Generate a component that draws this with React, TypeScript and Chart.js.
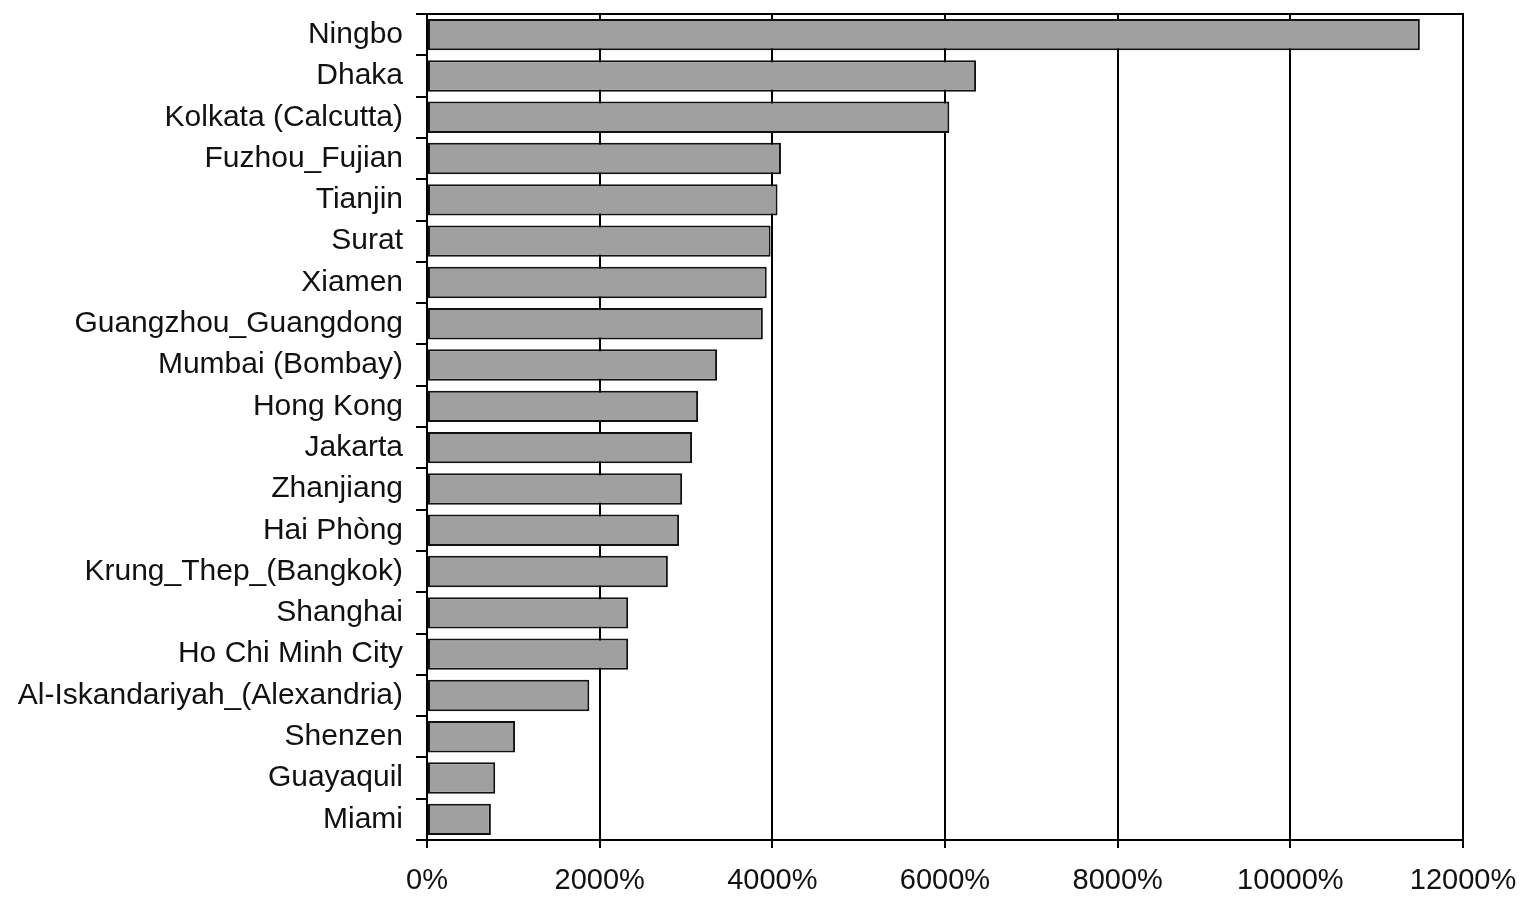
import React, { useEffect, useRef } from "react";
import { Chart, registerables } from "chart.js";

Chart.register(...registerables);

const cities: string[] = [
  "Ningbo",
  "Dhaka",
  "Kolkata (Calcutta)",
  "Fuzhou_Fujian",
  "Tianjin",
  "Surat",
  "Xiamen",
  "Guangzhou_Guangdong",
  "Mumbai (Bombay)",
  "Hong Kong",
  "Jakarta",
  "Zhanjiang",
  "Hai Phòng",
  "Krung_Thep_(Bangkok)",
  "Shanghai",
  "Ho Chi Minh City",
  "Al-Iskandariyah_(Alexandria)",
  "Shenzen",
  "Guayaquil",
  "Miami",
];

const growthPct: number[] = [
  11500, 6360, 6050, 4100, 4060, 3980, 3935, 3890, 3360, 3140,
  3070, 2955, 2920, 2790, 2330, 2330, 1880, 1020, 790, 740,
];

const xTickValues: number[] = [0, 2000, 4000, 6000, 8000, 10000, 12000];

const FONT = '"Liberation Sans", Arial, Helvetica, sans-serif';

const framePlugin = {
  id: "frameBox",
  afterDatasetsDraw(chart: any) {
    const { ctx, chartArea } = chart;
    ctx.save();
    ctx.strokeStyle = "#000";
    ctx.lineWidth = 2;
    ctx.beginPath();
    ctx.moveTo(chartArea.left, chartArea.top);
    ctx.lineTo(chartArea.right, chartArea.top);
    ctx.lineTo(chartArea.right, chartArea.bottom);
    ctx.stroke();
    ctx.restore();
  },
};

export default function App() {
  const canvasRef = useRef<HTMLCanvasElement | null>(null);

  useEffect(() => {
    if (!canvasRef.current) return;
    const chart = new Chart(canvasRef.current, {
      type: "bar",
      data: {
        labels: cities,
        datasets: [
          {
            data: growthPct,
            backgroundColor: "#a0a0a0",
            borderColor: "#111",
            borderWidth: 2,
            borderSkipped: false,
            barPercentage: 0.76,
            categoryPercentage: 1,
          },
        ],
      },
      options: {
        indexAxis: "y",
        animation: false,
        responsive: true,
        maintainAspectRatio: false,
        layout: { padding: { left: 0, top: 14, right: 59, bottom: 0 } },
        plugins: {
          legend: { display: false },
          tooltip: { enabled: false },
        },
        scales: {
          x: {
            type: "linear",
            min: 0,
            max: 12000,
            afterBuildTicks: (scale: any) => {
              scale.ticks = xTickValues.map((v) => ({ value: v }));
            },
            afterFit: (scale: any) => {
              scale.height = 57;
              scale.paddingLeft = 0;
              scale.paddingRight = 0;
            },
            ticks: {
              color: "#111",
              font: { family: FONT, size: 29 },
              padding: 16,
              maxRotation: 0,
              callback: (v: any) => `${v}%`,
            },
            grid: {
              color: "#000",
              lineWidth: 2,
              drawOnChartArea: true,
              drawTicks: true,
              tickLength: 8,
            },
            border: { display: true, color: "#000", width: 2 },
          },
          y: {
            type: "category",
            afterFit: (scale: any) => {
              scale.width = 427;
              scale.paddingTop = 0;
              scale.paddingBottom = 0;
            },
            ticks: {
              color: "#111",
              font: { family: FONT, size: 30 },
              padding: 13,
              autoSkip: false,
            },
            grid: {
              offset: true,
              color: "#000",
              lineWidth: 2,
              drawOnChartArea: false,
              drawTicks: true,
              tickLength: 11,
            },
            border: { display: true, color: "#000", width: 2 },
          },
        },
      },
      plugins: [framePlugin],
    });
    return () => chart.destroy();
  }, []);

  return (
    <div
      style={{
        position: "fixed",
        left: 0,
        top: 0,
        width: 1522,
        height: 897,
        background: "#fff",
      }}
    >
      <canvas ref={canvasRef} />
    </div>
  );
}
